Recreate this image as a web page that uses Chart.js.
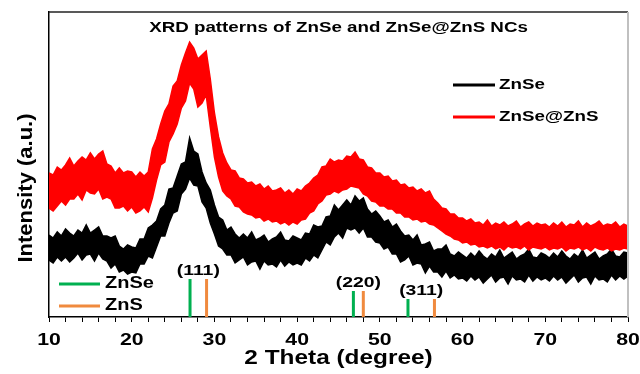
<!DOCTYPE html>
<html>
<head>
<meta charset="utf-8">
<script src="https://cdn.jsdelivr.net/npm/chart.js@4.4.1/dist/chart.umd.min.js"></script>
<style>
  html, body { margin: 0; padding: 0; background: #fff; }
  #wrap { width: 640px; height: 374px; position: relative; }
</style>
</head>
<body>
<div id="wrap"><canvas id="xrd"></canvas></div>
<script>
// XRD patterns: ZnSe vs ZnSe@ZnS core/shell NCs
// the raw scans are very noisy, so each one is kept as the top and bottom
// edge of its noise band, every 0.5 deg (arbitrary units)

const theta = Array.from({ length: 141 }, (_, i) => 10 + i * 0.5);

const znseTop = [
    82, 79, 85, 81, 88, 84, 81, 87, 84, 92, 84, 87, 90, 81, 81, 79, 81, 71, 68, 72,
    70, 69, 78, 78, 89, 92, 96, 108, 112, 128, 129, 141, 153, 155, 179, 166, 163, 145, 134, 127,
    112, 100, 97, 87, 90, 83, 79, 83, 79, 85, 77, 79, 82, 75, 78, 80, 85, 77, 76, 81,
    79, 77, 84, 83, 92, 90, 91, 100, 101, 112, 107, 112, 117, 112, 121, 116, 119, 108, 103, 106,
    101, 95, 97, 90, 93, 86, 81, 82, 77, 82, 72, 73, 75, 66, 68, 68, 72, 63, 61, 65,
    62, 59, 64, 60, 66, 61, 58, 63, 60, 67, 59, 62, 65, 58, 61, 63, 68, 60, 59, 64,
    62, 59, 64, 60, 66, 61, 58, 63, 60, 67, 59, 62, 65, 58, 61, 63, 68, 61, 60, 65,
    64
];
const znseBottom = [
    57, 54, 60, 56, 60, 55, 59, 64, 57, 62, 63, 56, 64, 58, 56, 49, 53, 45, 47, 43,
    45, 44, 53, 53, 61, 59, 70, 81, 81, 94, 104, 106, 123, 128, 139, 132, 131, 115, 109, 94,
    83, 71, 68, 62, 62, 54, 57, 60, 52, 55, 56, 48, 56, 52, 53, 50, 57, 51, 55, 52,
    54, 52, 59, 56, 62, 59, 67, 75, 72, 80, 84, 79, 89, 87, 89, 84, 89, 80, 80, 75,
    74, 68, 70, 63, 63, 55, 57, 61, 52, 54, 53, 44, 51, 45, 45, 40, 46, 39, 42, 38,
    39, 36, 41, 37, 40, 34, 38, 42, 35, 39, 40, 33, 41, 37, 38, 35, 42, 36, 40, 37,
    39, 36, 41, 37, 40, 34, 38, 42, 35, 39, 40, 33, 41, 37, 38, 35, 42, 37, 41, 38,
    41
];

const shellTop = [
    144, 142, 150, 147, 152, 159, 151, 156, 160, 157, 164, 158, 163, 166, 153, 151, 144, 149, 144, 146,
    145, 140, 145, 141, 145, 168, 178, 193, 206, 213, 231, 236, 252, 264, 275, 269, 258, 262, 266, 238,
    204, 180, 164, 154, 147, 146, 139, 138, 134, 135, 131, 133, 128, 131, 126, 127, 129, 124, 127, 123,
    128, 126, 131, 134, 139, 142, 150, 151, 158, 155, 157, 156, 161, 160, 165, 158, 157, 150, 149, 144,
    144, 140, 141, 136, 137, 132, 133, 129, 130, 126, 128, 124, 126, 118, 114, 109, 108, 103, 103, 99,
    99, 96, 98, 94, 95, 92, 97, 91, 94, 92, 95, 91, 93, 96, 90, 93, 95, 91, 94, 92,
    93, 90, 94, 91, 95, 90, 93, 92, 96, 90, 94, 91, 93, 96, 91, 93, 92, 95, 90, 93,
    91
];
const shellBottom = [
    109, 106, 111, 116, 112, 118, 118, 123, 117, 127, 124, 123, 128, 118, 120, 118, 109, 109, 111, 106,
    110, 104, 106, 110, 105, 119, 137, 152, 155, 175, 183, 193, 209, 216, 234, 228, 210, 214, 222, 190,
    160, 140, 126, 121, 118, 111, 110, 105, 103, 102, 99, 100, 96, 98, 95, 96, 93, 95, 92, 95,
    93, 97, 98, 104, 106, 113, 116, 122, 123, 126, 124, 127, 128, 131, 130, 129, 123, 121, 116, 115,
    111, 111, 108, 108, 104, 104, 100, 100, 97, 98, 95, 96, 93, 92, 89, 86, 83, 81, 78, 77,
    74, 75, 72, 73, 70, 71, 69, 71, 68, 70, 67, 71, 69, 70, 68, 71, 67, 70, 69, 68,
    70, 67, 69, 68, 70, 66, 69, 68, 70, 67, 69, 66, 70, 68, 67, 69, 66, 68, 67, 69,
    68
];

// reference diffraction lines (JCPDS sticks)
const refLabels = ['(111)', '(220)', '(311)'];
const znseRefPos = [27.05, 46.8, 53.4];
const znsRefPos = [29.05, 48.0, 56.6];
const refHeight = [38, 26, 18];

const xTickLabels = [10, 20, 30, 40, 50, 60, 70, 80];

function toPoints(xs, ys) {
    return xs.map((x, i) => ({ x: x, y: ys[i] }));
}

function sticks(positions, heights) {
    let pts = [];
    positions.forEach((p, i) => {
        pts.push({ x: p, y: 0 }, { x: p, y: heights[i] }, { x: p, y: null });
    });
    return pts;
}

function bandEdge(label, data, color, fillPrev) {
    return {
        label: label,
        data: data,
        borderColor: color,
        backgroundColor: color,
        borderWidth: 1.5,
        pointRadius: 0,
        tension: 0,
        fill: fillPrev ? '-1' : false
    };
}

const GREEN = '#00B050';
const ORANGE = '#F08A3E';

// text in the figure is a bit wider than plain Arial, so stretch it
function stretchText(ctx, txt, x, y, font, align, sx, rot) {
    ctx.save();
    ctx.translate(x, y);
    if (rot) ctx.rotate(rot);
    ctx.scale(sx, 1);
    ctx.font = font;
    ctx.fillStyle = '#000';
    ctx.textAlign = align;
    ctx.textBaseline = 'middle';
    ctx.fillText(txt, 0, 0);
    ctx.restore();
}

function legendLine(ctx, x1, x2, y, color, w) {
    ctx.save();
    ctx.strokeStyle = color;
    ctx.lineWidth = w;
    ctx.beginPath();
    ctx.moveTo(x1, y);
    ctx.lineTo(x2, y);
    ctx.stroke();
    ctx.restore();
}

const decor = {
    id: 'decor',
    afterDraw(chart) {
        const ctx = chart.ctx;
        const a = chart.chartArea;
        const xs = chart.scales.x;
        const ys = chart.scales.y;
        const F = '"Liberation Sans", Arial, sans-serif';

        // frame: top black, right grey
        legendLine(ctx, a.left, a.right, a.top, '#222', 1.5);
        ctx.save();
        ctx.strokeStyle = '#c0c0c0';
        ctx.lineWidth = 2;
        ctx.beginPath();
        ctx.moveTo(a.right, a.top);
        ctx.lineTo(a.right, a.bottom);
        ctx.stroke();
        ctx.restore();

        // title inside the box
        stretchText(ctx, 'XRD patterns of ZnSe and ZnSe@ZnS NCs', (a.left + a.right) / 2, 28, 'bold 15px ' + F, 'center', 1.25);

        // tick labels
        xTickLabels.forEach(v => {
            stretchText(ctx, String(v), xs.getPixelForValue(v), 340, 'bold 17px ' + F, 'center', 1.25);
        });

        // axis titles
        stretchText(ctx, '2 Theta (degree)', (a.left + a.right) / 2, 359, 'bold 19.5px ' + F, 'center', 1.25);
        stretchText(ctx, 'Intensity (a.u.)', 26, 188, 'bold 20px ' + F, 'center', 1.1, -Math.PI / 2);

        // hkl labels above sticks
        refLabels.forEach((lab, i) => {
            const px = xs.getPixelForValue((znseRefPos[i] + znsRefPos[i]) / 2);
            const py = ys.getPixelForValue(refHeight[i] + 8);
            stretchText(ctx, lab, px, py, 'bold 15.5px ' + F, 'center', 1.25);
        });

        // legend, top right
        legendLine(ctx, 453, 495, 85, '#000', 3);
        stretchText(ctx, 'ZnSe', 499, 85, 'bold 15px ' + F, 'left', 1.25);
        legendLine(ctx, 453, 495, 117, '#ff0000', 3);
        stretchText(ctx, 'ZnSe@ZnS', 499, 117, 'bold 15px ' + F, 'left', 1.25);

        // legend, bottom left (reference cards)
        legendLine(ctx, 59, 100, 284, GREEN, 3);
        stretchText(ctx, 'ZnSe', 105, 284, 'bold 16px ' + F, 'left', 1.25);
        legendLine(ctx, 59, 100, 306, ORANGE, 3);
        stretchText(ctx, 'ZnS', 105, 306, 'bold 16px ' + F, 'left', 1.25);
    }
};

new Chart(document.getElementById('xrd'), {
    type: 'line',
    data: {
        datasets: [
            bandEdge('ZnSe@ZnS low', toPoints(theta, shellBottom), '#ff0000', false),
            bandEdge('ZnSe@ZnS', toPoints(theta, shellTop), '#ff0000', true),
            bandEdge('ZnSe low', toPoints(theta, znseBottom), '#000000', false),
            bandEdge('ZnSe', toPoints(theta, znseTop), '#000000', true),
            {
                label: 'ZnSe ref',
                data: sticks(znseRefPos, refHeight),
                borderColor: GREEN,
                borderWidth: 3,
                pointRadius: 0,
                fill: false,
                spanGaps: false
            },
            {
                label: 'ZnS ref',
                data: sticks(znsRefPos, refHeight),
                borderColor: ORANGE,
                borderWidth: 3,
                pointRadius: 0,
                fill: false,
                spanGaps: false
            }
        ]
    },
    options: {
        responsive: true,
        maintainAspectRatio: false,
        animation: false,
        devicePixelRatio: 1,
        layout: { padding: { top: 12, right: 12, left: 0, bottom: 0 } },
        plugins: {
            legend: { display: false },
            tooltip: { enabled: false },
            title: { display: false },
            filler: { propagate: false }
        },
        scales: {
            x: {
                type: 'linear',
                min: 10,
                max: 80,
                afterFit: s => { s.height = 57; },
                ticks: {
                    stepSize: 2,
                    autoSkip: false,
                    maxRotation: 0,
                    callback: () => '',
                },
                grid: {
                    drawOnChartArea: false,
                    drawTicks: true,
                    tickLength: 5,
                    color: '#000',
                    lineWidth: 1
                },
                border: { display: true, color: '#000', width: 1.5 }
            },
            y: {
                min: 0,
                max: 305,
                afterFit: s => { s.width = 49; },
                ticks: { display: false },
                grid: { drawOnChartArea: false, drawTicks: false },
                border: { display: true, color: '#000', width: 1.5 }
            }
        }
    },
    plugins: [decor]
});
</script>
</body>
</html>
